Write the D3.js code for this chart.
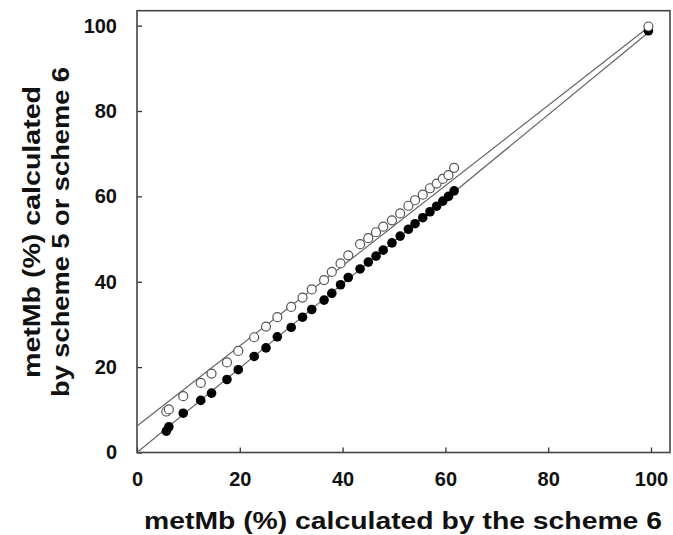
<!DOCTYPE html>
<html>
<head>
<meta charset="utf-8">
<script src="https://cdn.jsdelivr.net/npm/d3@7"></script>
<style>
  body { margin: 0; background: #fff; }
  svg { display: block; font-family: "Liberation Sans", Arial, sans-serif; }
</style>
</head>
<body>
<svg id="chart" width="673" height="535"></svg>
<script>
// x 値（scheme 6 で計算した metMb %）
const xValues = [5.7, 6.2, 9.0, 12.4, 14.5, 17.5, 19.7, 22.8, 25.1, 27.3, 30.0, 32.2, 34.0, 36.4, 37.9, 39.6, 41.1,
  43.4, 45.0, 46.5, 47.9, 49.6, 51.2, 52.8, 54.1, 55.6, 57.0, 58.3, 59.5, 60.6, 61.7, 99.5];
// 白丸: scheme 5
const openValues = [9.6, 10.1, 13.2, 16.3, 18.5, 21.1, 23.8, 27.0, 29.5, 31.7, 34.1, 36.3, 38.2, 40.4, 42.3, 44.3, 46.2,
  48.8, 50.2, 51.6, 52.9, 54.4, 56.0, 57.8, 59.1, 60.4, 61.9, 63.0, 64.1, 65.0, 66.7, 99.8];
// 黒丸: scheme 6
const filledValues = [5.0, 6.0, 9.2, 12.2, 13.9, 17.1, 19.4, 22.5, 24.5, 27.1, 29.3, 31.7, 33.5, 35.7, 37.3, 39.3, 41.0,
  43.0, 44.6, 46.0, 47.4, 49.1, 50.7, 52.3, 53.6, 55.0, 56.4, 57.7, 58.9, 60.0, 61.3, 98.8];
// 回帰直線の両端 [x, y]
const openFit = [[0, 6.2], [99.5, 99.6]];
const filledFit = [[0, 0], [99.5, 98.4]];
const xTicks = [0, 20, 40, 60, 80, 100];
const yTicks = [0, 20, 40, 60, 80, 100];

const svg = d3.select("#chart");
const plotLeft = 137, plotRight = 670, plotTop = 10.7, plotBottom = 452.5;

const x = d3.scaleLinear().domain([0, 103.7]).range([plotLeft, plotRight]);
const y = d3.scaleLinear().domain([0, 103.5]).range([plotBottom, plotTop]);

// 軸（内向きの目盛り）
const xAxis = svg.append("g")
  .attr("transform", `translate(0,${plotBottom})`)
  .call(d3.axisBottom(x).tickValues(xTicks).tickSize(-5).tickPadding(19).tickFormat(d3.format("d")));
const yAxis = svg.append("g")
  .attr("transform", `translate(${plotLeft},0)`)
  .call(d3.axisLeft(y).tickValues(yTicks).tickSize(-5).tickPadding(20).tickFormat(d3.format("d")));

[xAxis, yAxis].forEach(g => {
  g.select(".domain").remove();
  g.selectAll(".tick line").attr("stroke", "#333").attr("stroke-width", 1.3);
  g.selectAll(".tick text")
    .attr("fill", "#111")
    .style("font-size", "20px")
    .style("font-weight", "bold");
});

// 枠
svg.append("rect")
  .attr("x", plotLeft).attr("y", plotTop)
  .attr("width", plotRight - plotLeft).attr("height", plotBottom - plotTop)
  .attr("fill", "none").attr("stroke", "#444").attr("stroke-width", 1.6);

// 直線
const line = d3.line().x(d => x(d[0])).y(d => y(d[1]));
[openFit, filledFit].forEach(f => {
  svg.append("path").attr("d", line(f))
    .attr("fill", "none").attr("stroke", "#666").attr("stroke-width", 1.2);
});

// 点
const pts = xValues.map((v, i) => ({ x: v, open: openValues[i], filled: filledValues[i] }));
svg.append("g").selectAll("circle").data(pts).join("circle")
  .attr("cx", d => x(d.x)).attr("cy", d => y(d.filled)).attr("r", 4.8)
  .attr("fill", "#000");
svg.append("g").selectAll("circle").data(pts).join("circle")
  .attr("cx", d => x(d.x)).attr("cy", d => y(d.open)).attr("r", 4.5)
  .attr("fill", "#fff").attr("stroke", "#555").attr("stroke-width", 1.2);

// 軸タイトル
svg.append("text")
  .attr("x", 403).attr("y", 529)
  .attr("text-anchor", "middle")
  .attr("textLength", 518).attr("lengthAdjust", "spacingAndGlyphs")
  .style("font-size", "23px").style("font-weight", "bold").attr("fill", "#111")
  .text("metMb (%) calculated by the scheme 6");

const yTitle = svg.append("text")
  .attr("transform", "translate(0,232) rotate(-90)")
  .attr("text-anchor", "middle")
  .style("font-size", "23px").style("font-weight", "bold").attr("fill", "#111");
yTitle.append("tspan").attr("x", 0).attr("y", 40)
  .attr("textLength", 292).attr("lengthAdjust", "spacingAndGlyphs")
  .text("metMb (%) calculated");
yTitle.append("tspan").attr("x", 0).attr("y", 69)
  .attr("textLength", 330).attr("lengthAdjust", "spacingAndGlyphs")
  .text("by scheme 5 or scheme 6");
</script>
</body>
</html>
